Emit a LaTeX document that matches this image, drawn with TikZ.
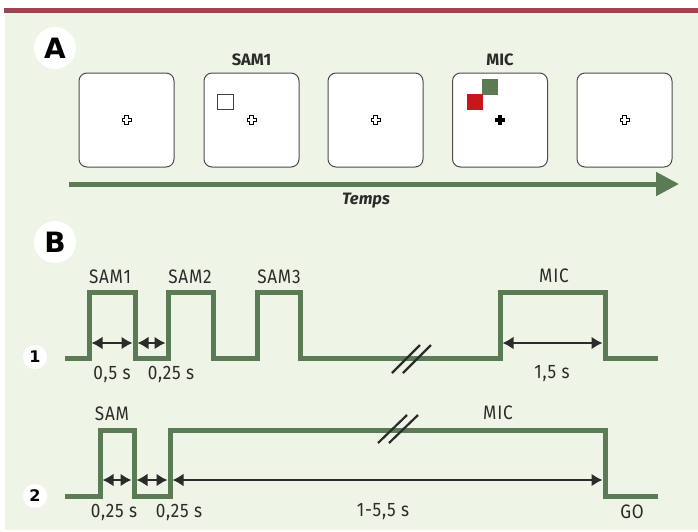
\documentclass[tikz,border=0pt]{standalone}
\usepackage{fontspec}
\setmainfont{Fira Sans}
\newfontfamily\etroit{Fira Sans}[FakeStretch=0.88,LetterSpace=4]
\newfontfamily\lourde{DejaVu Sans}
\usetikzlibrary{arrows.meta}
\definecolor{fond}{HTML}{EEF5E6}
\definecolor{vert}{HTML}{5B7B55}
\definecolor{bordeaux}{HTML}{9B4552}
\definecolor{rouge}{HTML}{C8161D}
\definecolor{encre}{HTML}{2B2B2B}
\tikzset{
  ecran/.style={draw=black!70,fill=white,rounded corners=8pt,minimum width=95pt,minimum height=94pt,inner sep=0pt,line width=1pt},
  signal/.style={vert,line width=5pt,line join=miter},
  duree/.style={{Latex[length=11pt,width=13pt]}-{Latex[length=11pt,width=13pt]},encre,line width=2.2pt},
  barre/.style={encre,line width=2.2pt},
  pastille/.style={circle,fill=white,inner sep=0pt},
  etiq/.style={text=encre,font=\etroit\fontsize{19.5}{19.5}\selectfont,inner sep=0pt},
  titre/.style={text=encre,font=\bfseries\fontsize{16.5}{16.5}\selectfont,inner sep=0pt}
}
\newcommand{\croix}[2]{%
  \draw[fill=#2,line width=0.8pt] (#1) ++(-1.8,-4.5) -- ++(3.6,0) -- ++(0,2.7) -- ++(2.7,0) -- ++(0,3.6) -- ++(-2.7,0) -- ++(0,2.7) -- ++(-3.6,0) -- ++(0,-2.7) -- ++(-2.7,0) -- ++(0,-3.6) -- ++(2.7,0) -- cycle;}
\begin{document}
\begin{tikzpicture}[x=1pt,y=-1pt,>=Latex]
\useasboundingbox (0,0) rectangle (698,531);
% fond et bandeau
\fill[fond] (5,13) rectangle (698,530);
\fill[bordeaux] (4,8) rectangle (698,13);

% ---- A : les ecrans
\node[pastille,minimum size=42pt,font=\lourde\bfseries\fontsize{28}{28}\selectfont] (lA) at (55,48) {A};
\foreach \i/\x in {1/126.5,2/251.5,3/375.5,4/500,5/624.5}{
  \node[ecran] (e\i) at (\x,120) {};
}
\node[titre] (n2) at (251.5,60) {SAM1};
\node[titre] (n4) at (500,60) {MIC};
\croix{e1.center}{white}
\croix{e2.center}{white}
\croix{e3.center}{white}
\croix{e4.center}{black}
\croix{e5.center}{white}
\draw[black!75,line width=0.8pt] ([shift={(-34.5,-26)}]e2.center) rectangle ++(16,15);
\fill[vert] ([shift={(-18,-41)}]e4.center) rectangle ++(16,16);
\fill[rouge] ([shift={(-33,-26)}]e4.center) rectangle ++(16,16);
\coordinate (t0) at (69,184);
\coordinate (t1) at (679,184);
\draw[vert,line width=5pt,-{Triangle[length=23pt,width=23pt]}] (t0) -- (t1);
\node[text=encre,font=\bfseries\itshape\fontsize{16.5}{16.5}\selectfont] (temps) at (366,201) {Temps};

% ---- B : les chronogrammes
\node[pastille,minimum size=42pt,font=\lourde\bfseries\fontsize{28}{28}\selectfont] (lB) at (55,242) {B};
\node[pastille,minimum size=24pt,font=\lourde\bfseries\fontsize{16}{16}\selectfont] (c1) at (35,357) {1};
\node[pastille,minimum size=24pt,font=\lourde\bfseries\fontsize{16}{16}\selectfont] (c2) at (35,496) {2};

% essai 1
\draw[signal] (65,358) -| (89,292) -| (135,358) -| (168,292) -| (213,358) -| (257,292) -| (300,358) -| (500,292) -| (605,358) -- (658,358);
\draw[barre] (392,373) -- (420,345);
\draw[barre] (403,373) -- (431,345);
\node[etiq] (s1) at (110,277) {SAM1};
\node[etiq] (s2) at (190,277) {SAM2};
\node[etiq] (s3) at (279,277) {SAM3};
\node[etiq] (m1) at (554,276) {MIC};
\coordinate (a1) at (91.5,343);
\coordinate (a2) at (132.5,343);
\coordinate (a3) at (137.5,343);
\coordinate (a4) at (165.5,343);
\coordinate (a5) at (502.5,343);
\coordinate (a6) at (602.5,343);
\draw[duree] (a1) -- (a2);
\draw[duree] (a3) -- (a4);
\draw[duree] (a5) -- (a6);
\node[etiq] (d1) at (112,374) {0,5 s};
\node[etiq] (d2) at (171,374) {0,25 s};
\node[etiq] (d3) at (552,374) {1,5 s};

% essai 2
\draw[signal] (65,496) -| (100,430) -| (134,496) -| (170,430) -| (605,496) -- (658,496);
\draw[barre] (378,443) -- (407,415);
\draw[barre] (389,443) -- (418,415);
\node[etiq] (s4) at (112,414) {SAM};
\node[etiq] (m2) at (498,413) {MIC};
\node[etiq] (go) at (632,512) {GO};
\coordinate (b1) at (102.5,480);
\coordinate (b2) at (131.5,480);
\coordinate (b3) at (136.5,480);
\coordinate (b4) at (167.5,480);
\coordinate (b5) at (172.5,480);
\coordinate (b6) at (602.5,480);
\draw[duree] (b1) -- (b2);
\draw[duree] (b3) -- (b4);
\draw[duree] (b5) -- (b6);
\node[etiq] (d4) at (114,512) {0,25 s};
\node[etiq] (d5) at (179,512) {0,25 s};
\node[etiq] (d6) at (383,512) {1-5,5 s};
\end{tikzpicture}
\end{document}
